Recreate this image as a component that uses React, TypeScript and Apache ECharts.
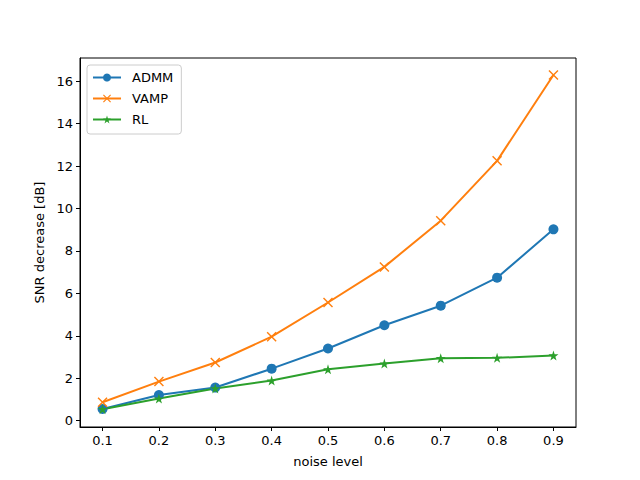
import React, { useEffect, useRef } from "react";
import * as echarts from "echarts";

const noiseLevels = [0.1, 0.2, 0.3, 0.4, 0.5, 0.6, 0.7, 0.8, 0.9];
const admm = [0.55, 1.21, 1.56, 2.45, 3.4, 4.5, 5.42, 6.74, 9.02];
const vamp = [0.87, 1.84, 2.74, 3.96, 5.57, 7.25, 9.43, 12.25, 16.3];
const rl = [0.54, 1.04, 1.52, 1.89, 2.42, 2.69, 2.94, 2.96, 3.07];
const xTicks = [0.1, 0.2, 0.3, 0.4, 0.5, 0.6, 0.7, 0.8, 0.9];
const yTicks = [0, 2, 4, 6, 8, 10, 12, 14, 16];

const X_SYMBOL =
  "path://M0,1 L1,0 L5,4 L9,0 L10,1 L6,5 L10,9 L9,10 L5,6 L1,10 L0,9 L4,5 Z";
const STAR_SYMBOL =
  "path://M50,0 L61.23,34.55 L97.55,34.55 L68.16,55.9 L79.39,90.45 L50,69.1 L20.61,90.45 L31.84,55.9 L2.45,34.55 L38.77,34.55 Z";

const FONT = "DejaVu Sans";

export default function App() {
  const ref = useRef<HTMLDivElement>(null);
  useEffect(() => {
    if (!ref.current) return;
    const chart = echarts.init(ref.current, undefined, { renderer: "svg" });
    const mk = (arr: number[]) => noiseLevels.map((x, i) => [x, arr[i]]);
    chart.setOption({
      animation: false,
      backgroundColor: "#ffffff",
      textStyle: { fontFamily: FONT },
      grid: {
        left: 80,
        top: 58,
        right: 64,
        bottom: 53,
        show: true,
        borderColor: "#000",
        borderWidth: 1,
        backgroundColor: "transparent",
      },
      legend: {
        orient: "vertical",
        left: 87,
        top: 65,
        padding: [5, 8, 7, 5],
        itemWidth: 28,
        itemHeight: 10,
        itemGap: 6,
        borderColor: "#cccccc",
        borderWidth: 1,
        borderRadius: 3,
        textStyle: {
          fontFamily: FONT,
          fontSize: 13,
          color: "#000",
          padding: [0, 0, 0, 6],
          lineHeight: 15,
        },
        data: ["ADMM", "VAMP", "RL"],
      },
      xAxis: {
        type: "value",
        min: 0.06,
        max: 0.94,
        name: "noise level",
        nameLocation: "middle",
        nameGap: 28,
        nameTextStyle: { fontFamily: FONT, fontSize: 13, color: "#000" },
        axisLine: { show: true, onZero: false, lineStyle: { color: "#000" } },
        axisTick: {
          show: true,
          length: 4,
          customValues: xTicks,
          lineStyle: { color: "#000" },
        },
        axisLabel: {
          customValues: xTicks,
          fontFamily: FONT,
          fontSize: 13,
          color: "#000",
          margin: 7,
          formatter: (v: number) => v.toFixed(1),
        },
        splitLine: { show: false },
      },
      yAxis: {
        type: "value",
        min: -0.3,
        max: 17.1,
        name: "SNR decrease [dB]",
        nameLocation: "middle",
        nameGap: 33,
        nameTextStyle: { fontFamily: FONT, fontSize: 13, color: "#000" },
        axisLine: { show: true, onZero: false, lineStyle: { color: "#000" } },
        axisTick: {
          show: true,
          length: 4,
          customValues: yTicks,
          lineStyle: { color: "#000" },
        },
        axisLabel: {
          customValues: yTicks,
          fontFamily: FONT,
          fontSize: 13,
          color: "#000",
          margin: 7,
        },
        splitLine: { show: false },
      },
      series: [
        {
          name: "ADMM",
          type: "line",
          data: mk(admm),
          symbol: "circle",
          symbolSize: 10,
          showAllSymbol: true,
          lineStyle: { color: "#1f77b4", width: 2 },
          itemStyle: { color: "#1f77b4" },
        },
        {
          name: "VAMP",
          type: "line",
          data: mk(vamp),
          symbol: X_SYMBOL,
          symbolSize: 10,
          showAllSymbol: true,
          lineStyle: { color: "#ff7f0e", width: 2 },
          itemStyle: { color: "#ff7f0e" },
        },
        {
          name: "RL",
          type: "line",
          data: mk(rl),
          symbol: STAR_SYMBOL,
          symbolSize: 10,
          showAllSymbol: true,
          lineStyle: { color: "#2ca02c", width: 2 },
          itemStyle: { color: "#2ca02c" },
        },
      ],
    });
    return () => chart.dispose();
  }, []);
  return (
    <div
      ref={ref}
      style={{ position: "fixed", left: 0, top: 0, width: 640, height: 480 }}
    />
  );
}
